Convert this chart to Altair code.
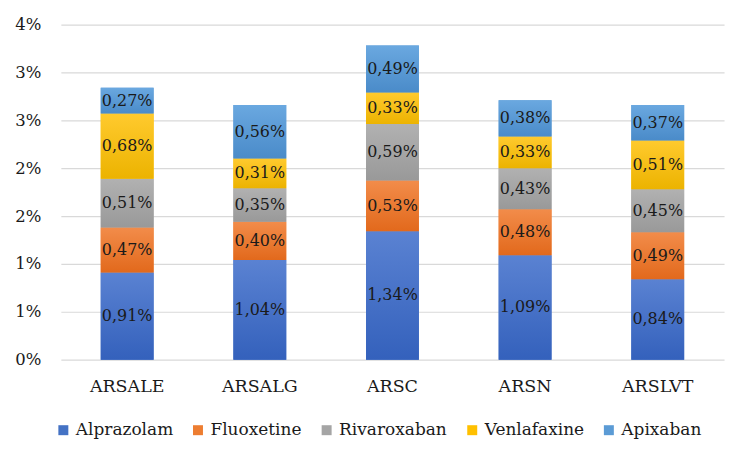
import altair as alt
import pandas as pd

sites = ["ARSALE", "ARSALG", "ARSC", "ARSN", "ARSLVT"]
drugs = ["Alprazolam", "Fluoxetine", "Rivaroxaban", "Venlafaxine", "Apixaban"]
alprazolam = [0.91, 1.04, 1.34, 1.09, 0.84]
fluoxetine = [0.47, 0.40, 0.53, 0.48, 0.49]
rivaroxaban = [0.51, 0.35, 0.59, 0.43, 0.45]
venlafaxine = [0.68, 0.31, 0.33, 0.33, 0.51]
apixaban = [0.27, 0.56, 0.49, 0.38, 0.37]
y_ticks = [0, 0.5, 1.0, 1.5, 2.0, 2.5, 3.0, 3.5]

solid = ["#4472C4", "#ED7D31", "#A5A5A5", "#FFC000", "#5B9BD5"]
tops = ["#5a82d2", "#f28c4a", "#b1b1b1", "#ffca2e", "#6aa8e0"]
bottoms = ["#3461bc", "#e2691c", "#999999", "#ecb300", "#4a8bc9"]

series = [alprazolam, fluoxetine, rivaroxaban, venlafaxine, apixaban]
rows = []
for k, (d, vals) in enumerate(zip(drugs, series)):
    for s, v in zip(sites, vals):
        rows.append({"site": s, "drug": d, "value": v, "order": k})
df = pd.DataFrame(rows)

FONT = "DejaVu Serif"

base = alt.Chart(df).transform_stack(
    stack="value", groupby=["site"], as_=["y0", "y1"],
    sort=[alt.SortField("order", order="ascending")]
)

xenc = alt.X("site:N", sort=sites, title=None,
             scale=alt.Scale(paddingInner=0, paddingOuter=0),
             axis=alt.Axis(labelAngle=0, ticks=False, tickSize=0, domain=False,
                           labelPadding=18, labelFontSize=17.5, labelFont=FONT,
                           labelColor="#1a1a1a"))
yscale = alt.Scale(domain=[0, 3.5], nice=False)
yenc = alt.Y("y0:Q", scale=yscale, title=None,
             axis=alt.Axis(values=y_ticks, labelExpr="round(datum.value) + '%'",
                           domain=False, ticks=False, tickSize=0, labelPadding=20,
                           labelFontSize=16.5, labelFont=FONT, labelColor="#1a1a1a",
                           gridColor="#d9d9d9", gridWidth=1.2))

legend_layer = base.mark_bar(size=53).encode(
    x=xenc, y=yenc, y2="y1:Q",
    color=alt.Color("drug:N", sort=drugs,
                    scale=alt.Scale(domain=drugs, range=solid),
                    legend=alt.Legend(title=None, orient="none", direction="horizontal",
                                      legendX=-6, legendY=398,
                                      symbolType="square", symbolSize=100,
                                      symbolStrokeWidth=0,
                                      labelFont=FONT, labelFontSize=17,
                                      labelColor="#1a1a1a", labelOffset=4,
                                      columnPadding=16))
)

layers = [legend_layer]
for d, t, b in zip(drugs, tops, bottoms):
    grad = alt.LinearGradient(
        gradient="linear", x1=0, x2=0, y1=0, y2=1,
        stops=[alt.GradientStop(offset=0, color=t), alt.GradientStop(offset=1, color=b)])
    layers.append(
        base.transform_filter(alt.datum.drug == d).mark_bar(size=53, fill=grad).encode(
            x=alt.X("site:N", sort=sites), y="y0:Q", y2="y1:Q")
    )

text = base.transform_calculate(
    mid="(datum.y0 + datum.y1) / 2",
    lab="replace(format(datum.value, '.2f'), '.', ',') + '%'"
).mark_text(font=FONT, fontSize=16, color="#1a1a1a").encode(
    x=alt.X("site:N", sort=sites), y=alt.Y("mid:Q", scale=yscale), text="lab:N")
layers.append(text)

chart = alt.layer(*layers).properties(
    width=665, height=336,
    padding={"left": 6, "top": 8, "right": 18, "bottom": 6},
    background="white"
).configure_view(stroke=None)

chart.save("out.html", embed_options={"renderer": "svg", "actions": False})
